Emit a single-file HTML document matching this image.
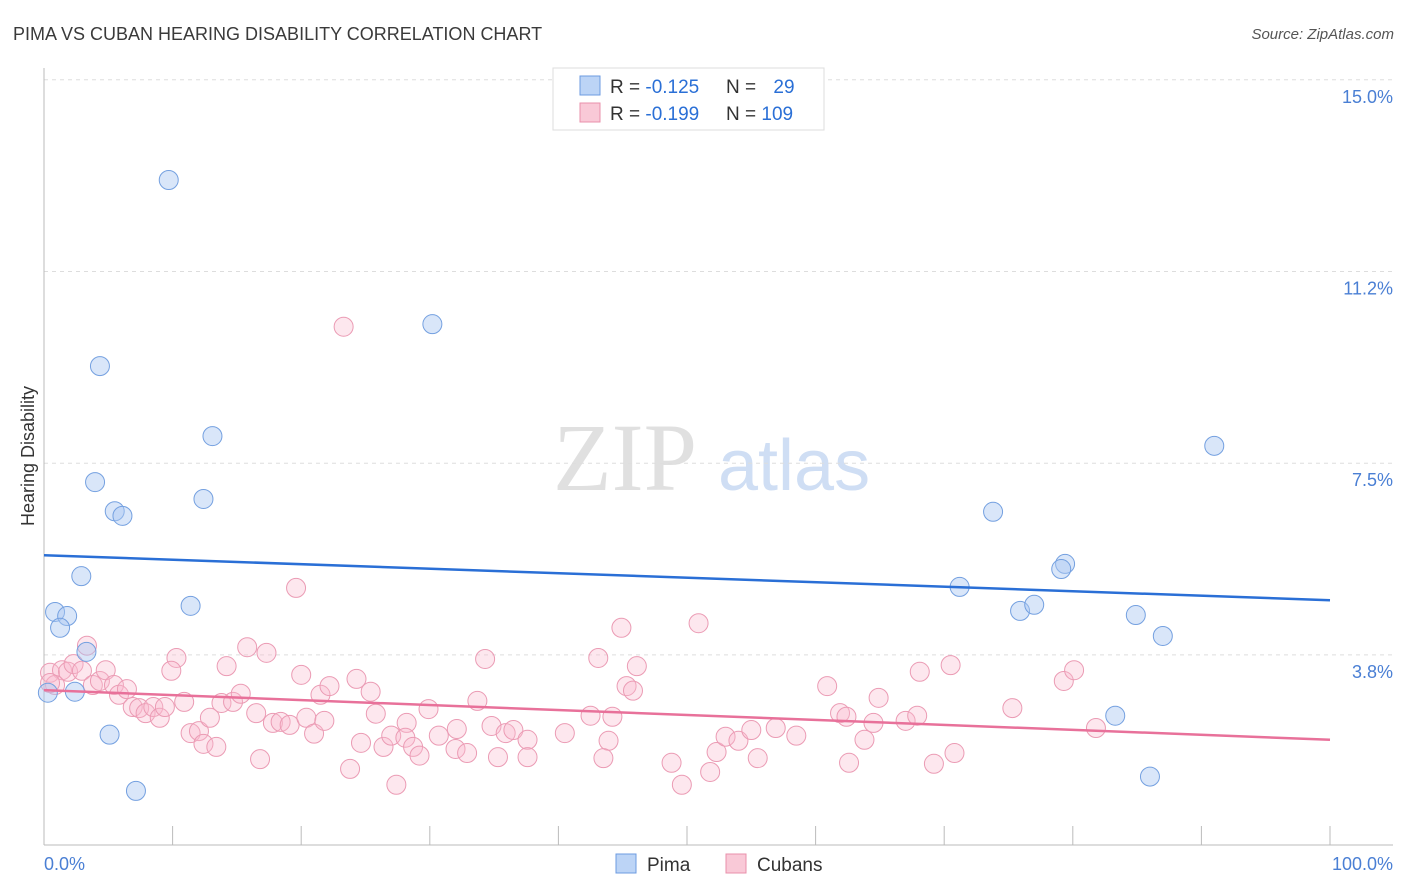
<!DOCTYPE html>
<html><head><meta charset="utf-8"><style>
body{margin:0;background:#fff;width:1406px;height:892px;overflow:hidden;font-family:"Liberation Sans",sans-serif}
svg{display:block}
</style></head><body>
<svg id="chart" width="1406" height="892">
<text x="13" y="40" font-size="18" fill="#3a3a3a">PIMA VS CUBAN HEARING DISABILITY CORRELATION CHART</text>
<text x="1394" y="39" font-size="15" fill="#555" font-style="italic" text-anchor="end">Source: ZipAtlas.com</text>
<g><text x="553" y="490" font-size="96" font-family="Liberation Serif,serif" fill="#e0e0e0">ZIP</text><text x="718" y="490" font-size="72" fill="#cfdef4">atlas</text></g>
<g id="grid"></g>
<g id="pts"></g>
<g id="trend"></g>
<text transform="translate(34,456) rotate(-90)" font-size="18" fill="#333" text-anchor="middle">Hearing Disability</text>
<g>
<rect x="553" y="68" width="271" height="62" fill="#fff" stroke="#ddd"/>
<rect x="580" y="76" width="20" height="19" fill="#bcd4f6" stroke="#6c9be0"/>
<rect x="580" y="103" width="20" height="19" fill="#f9c9d7" stroke="#e990ab"/>
<text x="610" y="93" font-size="19" fill="#333">R = <tspan fill="#2a6fd6">-0.125</tspan></text>
<text x="726" y="93" font-size="19" fill="#333">N = <tspan fill="#2a6fd6" dx="12">29</tspan></text>
<text x="610" y="120" font-size="19" fill="#333">R = <tspan fill="#2a6fd6">-0.199</tspan></text>
<text x="726" y="120" font-size="19" fill="#333">N = <tspan fill="#2a6fd6">109</tspan></text>
</g>
<g>
<rect x="616" y="854" width="20" height="19" fill="#bcd4f6" stroke="#6c9be0"/>
<text x="647" y="871" font-size="19" fill="#333">Pima</text>
<rect x="726" y="854" width="20" height="19" fill="#f9c9d7" stroke="#e990ab"/>
<text x="757" y="871" font-size="19" fill="#333">Cubans</text>
</g>
</svg>
<script>
const yTicks=[15.0,11.2,7.5,3.8];
const yTickVals=[15,11.25,7.5,3.75];
const xTickLabels=["0.0%","100.0%"];
const pimaX=[9.7,30.2,4.35,13.1,3.97,12.4,5.5,6.1,2.9,0.86,1.8,1.25,11.4,3.3,0.3,2.4,5.1,7.15,91.0,73.8,71.2,79.4,79.1,75.9,77.0,84.9,87.0,83.3,86.0];
const pimaY=[13.04,10.22,9.40,8.03,7.13,6.80,6.56,6.47,5.29,4.59,4.51,4.28,4.71,3.81,3.01,3.03,2.19,1.09,7.84,6.55,5.08,5.53,5.43,4.61,4.73,4.53,4.12,2.56,1.37];
const cubX=[23.3,19.6,3.34,0.47,1.4,1.87,2.3,2.95,0.86,0.47,3.8,4.35,4.8,5.44,5.83,6.45,6.9,7.4,7.9,8.5,9.0,9.4,10.3,9.9,10.9,11.4,12.05,12.4,12.9,13.4,14.2,13.8,14.7,15.3,15.8,17.3,16.5,16.8,17.8,18.4,19.1,20.0,20.4,21.0,21.5,22.2,21.8,23.8,24.3,25.4,25.8,24.65,26.4,27.0,27.4,28.2,28.1,28.7,29.2,29.9,30.7,32.1,32.0,32.9,33.7,34.3,34.8,35.3,35.9,36.5,37.6,37.6,
40.5,42.5,44.2,43.9,43.5,43.1,44.9,46.1,45.3,45.8,48.8,49.6,51.8,52.3,53.0,54.0,55.0,55.5,50.9,56.9,58.5,60.9,61.9,62.4,62.6,63.8,64.5,64.9,67.0,67.9,68.1,70.5,70.8,69.2,75.3,79.3,80.1,81.8];
const cubY=[10.17,5.06,3.93,3.40,3.45,3.42,3.57,3.44,3.16,3.20,3.16,3.24,3.45,3.16,2.97,3.08,2.73,2.71,2.61,2.73,2.52,2.73,3.69,3.44,2.83,2.22,2.26,2.01,2.52,1.95,3.53,2.81,2.83,2.99,3.90,3.79,2.61,1.71,2.42,2.44,2.38,3.36,2.52,2.21,2.97,3.14,2.46,1.52,3.28,3.03,2.60,2.03,1.95,2.17,1.21,2.42,2.13,1.95,1.78,2.69,2.17,2.30,1.91,1.83,2.85,3.67,2.36,1.75,2.22,2.28,2.09,1.75,
2.22,2.56,2.54,2.07,1.73,3.69,4.28,3.53,3.14,3.05,1.64,1.21,1.46,1.85,2.15,2.07,2.28,1.73,4.37,2.32,2.17,3.14,2.61,2.54,1.64,2.09,2.42,2.91,2.46,2.56,3.42,3.55,1.83,1.62,2.71,3.24,3.45,2.32];
const pimaTrend=[5.70,4.82];
const cubTrend=[3.06,2.09];
const NS="http://www.w3.org/2000/svg";
const X0=44,X1=1330,Y0=846.6,PPY=51.12;
const sx=v=>X0+v/100*(X1-X0);
const sy=v=>Y0-v*PPY;
function mk(tag,attrs,parent){const e=document.createElementNS(NS,tag);for(const k in attrs)e.setAttribute(k,attrs[k]);parent.appendChild(e);return e;}
const grid=document.getElementById('grid');
yTickVals.forEach((v,i)=>{
 const l=mk('line',{x1:44,x2:1393,y1:sy(v),y2:sy(v),stroke:'#ddd','stroke-dasharray':'4,4'},grid);
 
 
 const t=mk('text',{x:1393,y:sy(v)+23,'font-size':18,fill:'#4a7fd4','text-anchor':'end'},grid);
 t.textContent=yTicks[i].toFixed(1)+'%';
 
 
});
const ax=mk('line',{x1:44,x2:44,y1:68,y2:845,stroke:'#bbb'},grid);


const bx=mk('line',{x1:44,x2:1393,y1:845,y2:845,stroke:'#bbb'},grid);


for(let i=1;i<=10;i++){const t=mk('line',{x1:sx(i*10),x2:sx(i*10),y1:826,y2:845,stroke:'#bbb'},grid);
 
 }
const xl0=mk('text',{x:44,y:870,'font-size':18,fill:'#4a7fd4'},grid);xl0.textContent=xTickLabels[0];


const xl1=mk('text',{x:1393,y:870,'font-size':18,fill:'#4a7fd4','text-anchor':'end'},grid);xl1.textContent=xTickLabels[1];


const pts=document.getElementById('pts');
cubX.forEach((x,i)=>{const c=mk('circle',{cx:sx(x),cy:sy(cubY[i]),r:9.5,fill:'rgba(248,185,205,0.35)',stroke:'#eb9bb4','stroke-width':1},pts);
 
 });
pimaX.forEach((x,i)=>{const c=mk('circle',{cx:sx(x),cy:sy(pimaY[i]),r:9.5,fill:'rgba(170,200,242,0.45)',stroke:'#74a0e0','stroke-width':1},pts);
 
 });
const tr=document.getElementById('trend');
const l1=mk('line',{x1:sx(0),x2:sx(100),y1:sy(pimaTrend[0]),y2:sy(pimaTrend[1]),stroke:'#2a6fd6','stroke-width':2.5},tr);


const l2=mk('line',{x1:sx(0),x2:sx(100),y1:sy(cubTrend[0]),y2:sy(cubTrend[1]),stroke:'#e8719a','stroke-width':2.5},tr);


</script>
</body></html>
